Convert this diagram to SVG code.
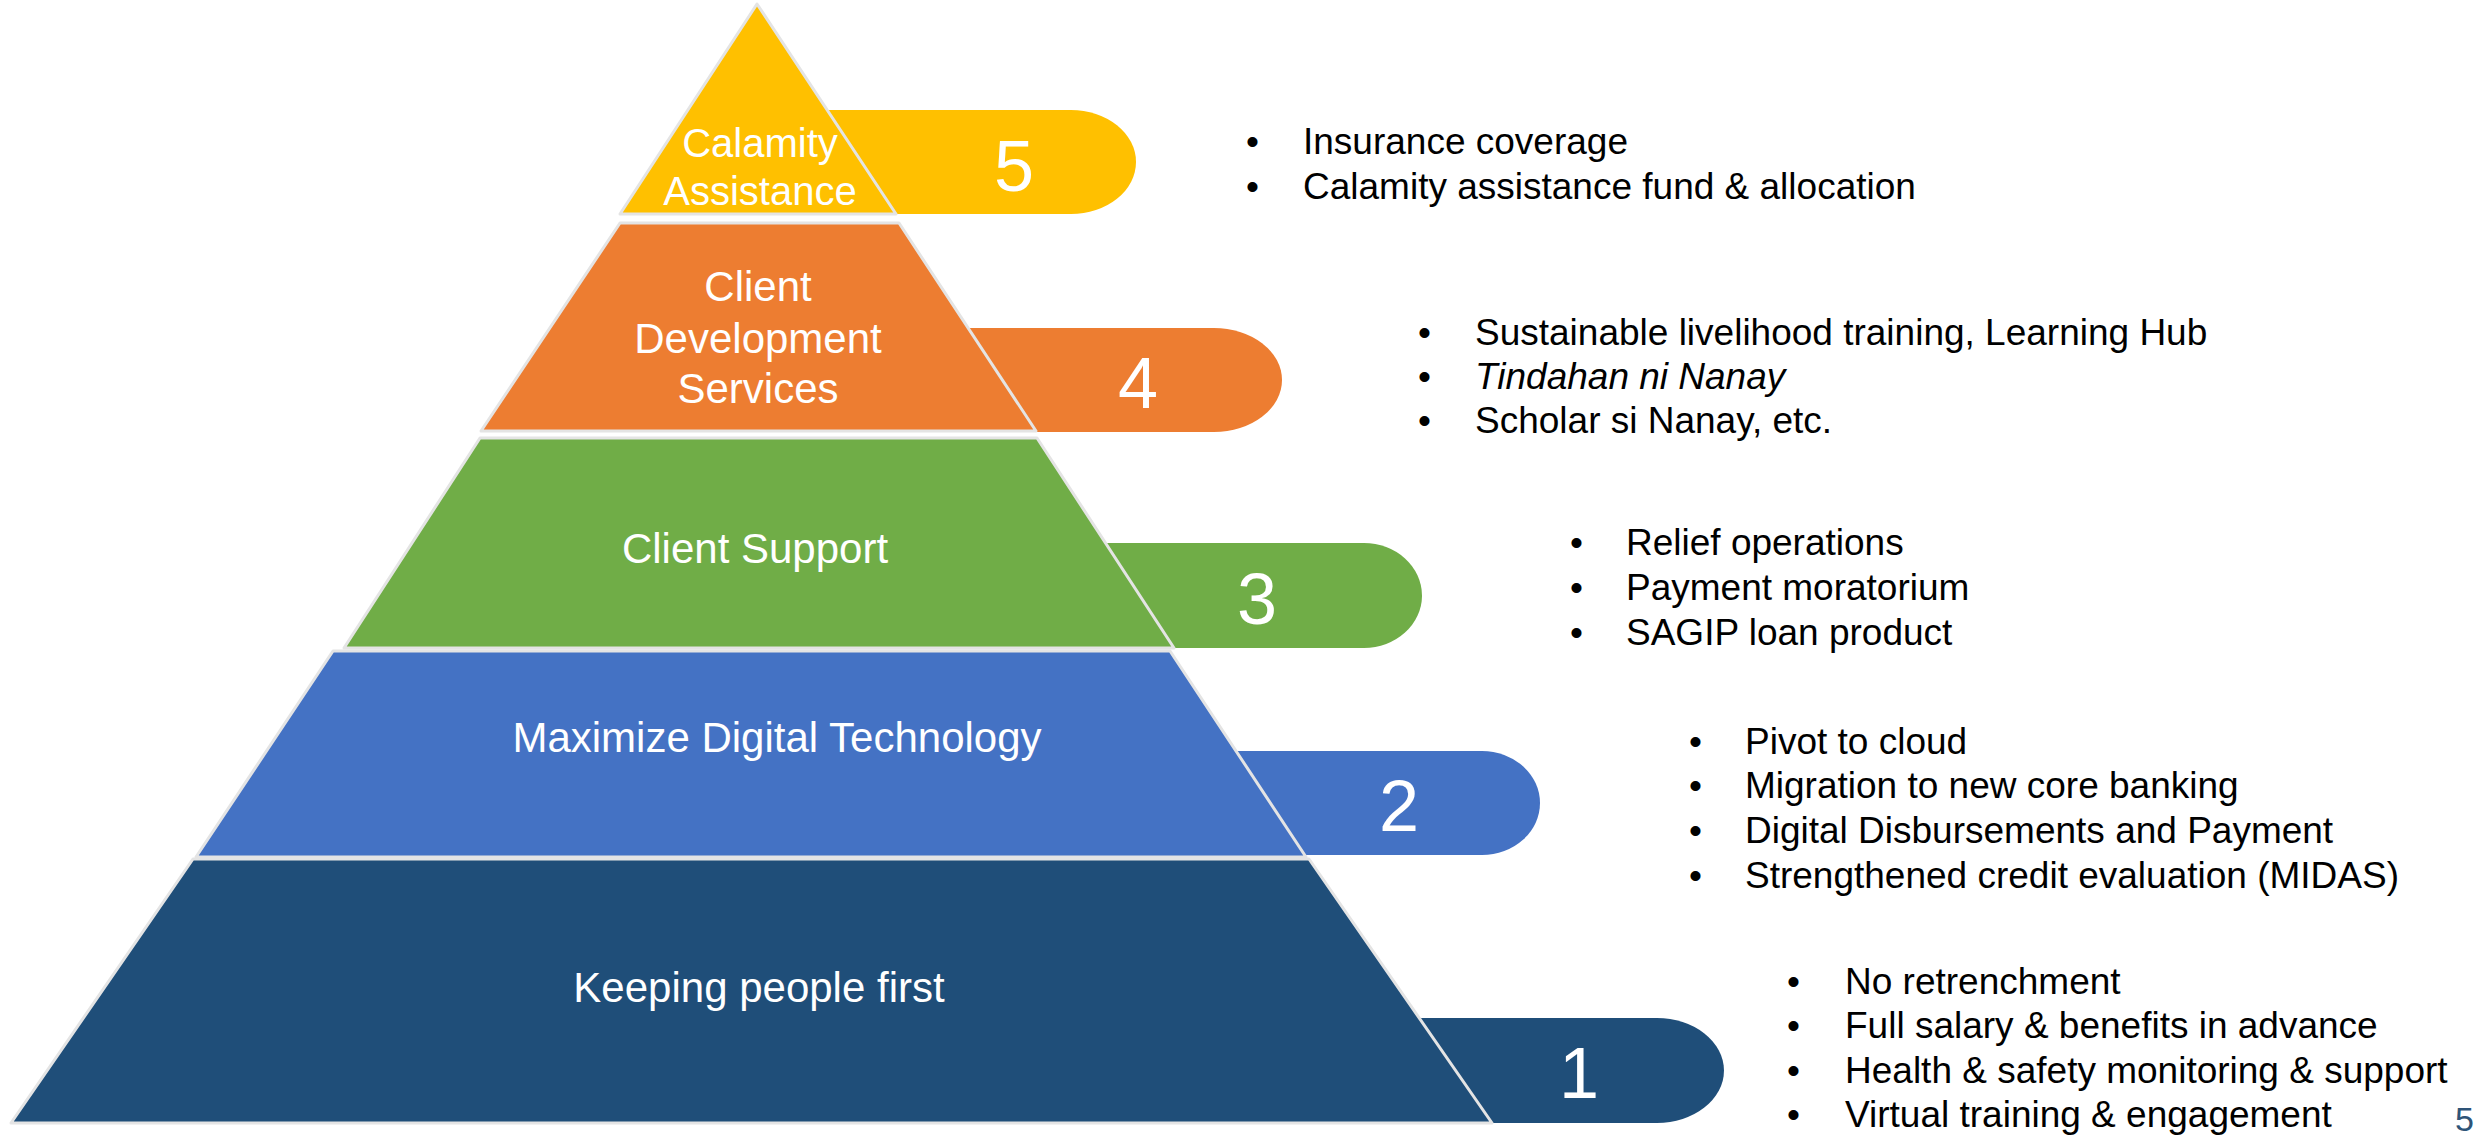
<svg xmlns="http://www.w3.org/2000/svg" width="2479" height="1135" viewBox="0 0 2479 1135">
<style>
.layer{stroke:#E4E4E4;stroke-width:3;stroke-linejoin:round}
.lbl{font-family:"Liberation Sans",Arial,sans-serif;fill:#FFFFFF;text-anchor:middle}
.num{font-family:"Liberation Sans",Arial,sans-serif;fill:#FFFFFF;text-anchor:middle;font-size:72px}
.bt{font-family:"Liberation Sans",Arial,sans-serif;fill:#000000;font-size:37px}
.yel{fill:#FFC000}.ora{fill:#ED7D31}.grn{fill:#70AD47}.blu{fill:#4472C4}.dbl{fill:#1F4E79}
</style>
<rect width="2479" height="1135" fill="#FFFFFF"/>
<g id="connectors"></g>

<g id="level1">
  <path class="dbl" d="M1250,1018 H1657 A67,52.5 0 0 1 1657,1123 H1250 Z"/>
  <polygon class="layer dbl" points="193,859 1309,859 1492,1123 11,1123"/>
  <text class="lbl" x="759" y="1002" font-size="42">Keeping people first</text>
  <text class="num" x="1579" y="1098">1</text>
</g>

<g id="level2">
  <path class="blu" d="M1150,751 H1482 A58,52 0 0 1 1482,855 H1150 Z"/>
  <polygon class="layer blu" points="333,651 1170,651 1306,857 196,857"/>
  <text class="lbl" x="777" y="752" font-size="42">Maximize Digital Technology</text>
  <text class="num" x="1399" y="831">2</text>
</g>

<g id="level3">
  <path class="grn" d="M1050,543 H1364 A58,52.5 0 0 1 1364,648 H1050 Z"/>
  <polygon class="layer grn" points="480,438 1037,438 1174,648 344,648"/>
  <text class="lbl" x="755" y="563" font-size="42">Client Support</text>
  <text class="num" x="1257" y="624">3</text>
</g>

<g id="level4">
  <path class="ora" d="M930,328 H1214 A68,52 0 0 1 1214,432 H930 Z"/>
  <polygon class="layer ora" points="620,223 899,223 1036,431 481,431"/>
  <text class="lbl" x="758" y="301" font-size="42">Client</text>
  <text class="lbl" x="758" y="353" font-size="42">Development</text>
  <text class="lbl" x="758" y="403" font-size="42">Services</text>
  <text class="num" x="1138" y="408">4</text>
</g>

<g id="level5">
  <path class="yel" d="M800,110 H1071 A65,52 0 0 1 1071,214 H800 Z"/>
  <polygon class="layer yel" points="757,4 896,214 620,214"/>
  <text class="lbl" x="760" y="157" font-size="40">Calamity</text>
  <text class="lbl" x="760" y="205" font-size="40">Assistance</text>
  <text class="num" x="1014" y="191">5</text>
</g>

<g id="bullets5">
  <text class="bt" x="1246" y="154">•</text><text class="bt" x="1303" y="154">Insurance coverage</text>
  <text class="bt" x="1246" y="199">•</text><text class="bt" x="1303" y="199">Calamity assistance fund &amp; allocation</text>
</g>
<g id="bullets4">
  <text class="bt" x="1418" y="345">•</text><text class="bt" x="1475" y="345">Sustainable livelihood training, Learning Hub</text>
  <text class="bt" x="1418" y="389">•</text><text class="bt" x="1475" y="389" font-style="italic">Tindahan ni Nanay</text>
  <text class="bt" x="1418" y="433">•</text><text class="bt" x="1475" y="433">Scholar si Nanay, etc.</text>
</g>
<g id="bullets3">
  <text class="bt" x="1570" y="555">•</text><text class="bt" x="1626" y="555">Relief operations</text>
  <text class="bt" x="1570" y="600">•</text><text class="bt" x="1626" y="600">Payment moratorium</text>
  <text class="bt" x="1570" y="645">•</text><text class="bt" x="1626" y="645">SAGIP loan product</text>
</g>
<g id="bullets2">
  <text class="bt" x="1689" y="754">•</text><text class="bt" x="1745" y="754">Pivot to cloud</text>
  <text class="bt" x="1689" y="798">•</text><text class="bt" x="1745" y="798">Migration to new core banking</text>
  <text class="bt" x="1689" y="843">•</text><text class="bt" x="1745" y="843">Digital Disbursements and Payment</text>
  <text class="bt" x="1689" y="888">•</text><text class="bt" x="1745" y="888">Strengthened credit evaluation (MIDAS)</text>
</g>
<g id="bullets1">
  <text class="bt" x="1787" y="994">•</text><text class="bt" x="1845" y="994">No retrenchment</text>
  <text class="bt" x="1787" y="1038">•</text><text class="bt" x="1845" y="1038">Full salary &amp; benefits in advance</text>
  <text class="bt" x="1787" y="1083">•</text><text class="bt" x="1845" y="1083">Health &amp; safety monitoring &amp; support</text>
  <text class="bt" x="1787" y="1127">•</text><text class="bt" x="1845" y="1127">Virtual training &amp; engagement</text>
</g>
<text id="page" x="2455" y="1131" font-family="'Liberation Sans',Arial,sans-serif" font-size="34" fill="#2E5478">5</text>
</svg>
